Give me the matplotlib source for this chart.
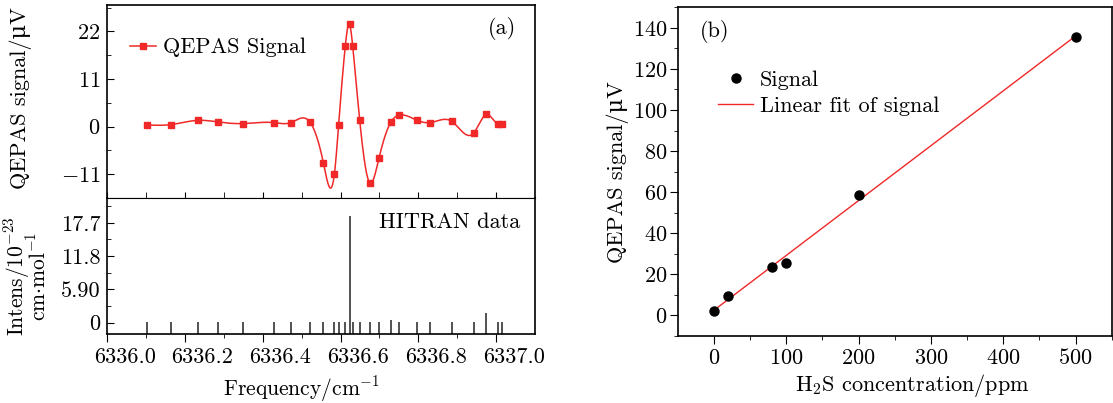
import matplotlib
matplotlib.use("Agg")
import matplotlib.pyplot as plt
import matplotlib.transforms as mtransforms
import numpy as np

plt.rcParams['font.family'] = ['cmr10', 'DejaVu Serif']
plt.rcParams['mathtext.fontset'] = 'cm'
plt.rcParams['axes.formatter.use_mathtext'] = True
plt.rcParams['axes.unicode_minus'] = True

# (a) QEPAS signal and HITRAN lines
freq = [6336.102, 6336.164, 6336.234, 6336.285, 6336.348, 6336.428, 6336.472,
        6336.521, 6336.556, 6336.584, 6336.595, 6336.612, 6336.623, 6336.631,
        6336.649, 6336.675, 6336.699, 6336.730, 6336.749, 6336.797, 6336.830,
        6336.886, 6336.942, 6336.975, 6337.004, 6337.016]
signal = [0.38, 0.46, 1.45, 1.07, 0.69, 0.92, 0.92, 1.07, -8.48, -11.0, 0.46,
          18.56, 23.7, 18.7, 1.6, -12.99, -7.18, 1.15, 2.6, 1.45, 0.92, 1.2,
          -1.5, 2.8, 0.6, 0.55]
intens = [0.08, 0.08, 0.08, 0.08, 0.08, 0.08, 0.08, 0.08, 0.08, 0.08, 0.08,
          0.08, 18.9, 0.08, 0.08, 0.08, 0.08, 0.47, 0.08, 0.08, 0.08, 0.08,
          0.08, 1.77, 0.08, 0.08]

# (b) calibration
conc = [0, 20, 80, 100, 200, 500]
conc_sig = [2.0, 9.6, 23.7, 25.7, 58.8, 135.5]

red = '#f02828'
fs = 16


def natural_spline(x, y, n=800):
    x = np.asarray(x, float)
    y = np.asarray(y, float)
    m = len(x)
    h = np.diff(x)
    A = np.zeros((m, m))
    b = np.zeros(m)
    A[0, 0] = A[-1, -1] = 1
    for i in range(1, m - 1):
        A[i, i - 1] = h[i - 1]
        A[i, i] = 2 * (h[i - 1] + h[i])
        A[i, i + 1] = h[i]
        b[i] = 3 * ((y[i + 1] - y[i]) / h[i] - (y[i] - y[i - 1]) / h[i - 1])
    c = np.linalg.solve(A, b)
    bb = (y[1:] - y[:-1]) / h - h * (2 * c[:-1] + c[1:]) / 3
    d = (c[1:] - c[:-1]) / (3 * h)
    xs = np.linspace(x[0], x[-1], n)
    k = np.clip(np.searchsorted(x, xs) - 1, 0, m - 2)
    t = xs - x[k]
    ys = y[k] + bb[k] * t + c[k] * t ** 2 + d[k] * t ** 3
    return xs, ys


fig = plt.figure(figsize=(11.13, 4.03), dpi=100)
ax1 = fig.add_axes([0.0964, 0.5087, 0.3843, 0.4789])
ax2 = fig.add_axes([0.0964, 0.1712, 0.3843, 0.3375], sharex=ax1)
ax3 = fig.add_axes([0.6089, 0.1663, 0.3899, 0.8156])

xs, ys = natural_spline(freq, signal)
ax1.plot(xs, ys, color=red, lw=1.1)
ax1.plot(freq, signal, 's', color=red, ms=5)
ax1.plot([], [], '-s', color=red, ms=5, lw=1.1, label='QEPAS Signal')
ax1.legend(loc='upper left', bbox_to_anchor=(0.053, 0.83), frameon=False,
           fontsize=fs, handlelength=1.15, handletextpad=0.35, borderpad=0,
           borderaxespad=0)
ax1.set_xlim(6336.0, 6337.1)
ax1.set_ylim(-16.1, 28.1)
ax1.set_yticks([-11, 0, 11, 22])
ax1.set_yticks([-16.5, -5.5, 5.5, 16.5, 27.5], minor=True)
ax1.set_xticks(np.arange(6336.0, 6337.05, 0.2))
ax1.set_xticks(np.arange(6336.1, 6337.1, 0.2), minor=True)
ax1.tick_params(axis='y', which='both', direction='in', labelsize=fs, pad=5)
ax1.tick_params(axis='y', which='major', length=5)
ax1.tick_params(axis='y', which='minor', length=3)
ax1.tick_params(axis='x', which='both', direction='in', length=4, labelbottom=False)
ax1.set_ylabel('QEPAS signal/μV', fontsize=fs)
ax1.yaxis.set_label_coords(-0.176, 0.52)
ax1.text(0.955, 0.88, '(a)', transform=ax1.transAxes, fontsize=fs,
         ha='right', va='center')

ax2.vlines(freq, -2.0, intens, color='#222222', lw=1.1)
ax2.set_ylim(-2.0, 22.1)
ax2.set_yticks([0, 5.9, 11.8, 17.7])
ax2.set_yticklabels(['0', '5.90', '11.8', '17.7'])
ax2.set_yticks([2.95, 8.85, 14.75, 20.65], minor=True)
ax2.tick_params(axis='y', which='both', direction='in', labelsize=fs, pad=5)
ax2.tick_params(axis='y', which='major', length=5)
ax2.tick_params(axis='y', which='minor', length=3)
ax2.tick_params(axis='x', which='major', direction='out', length=6,
                labelsize=fs, pad=4)
ax2.tick_params(axis='x', which='minor', direction='out', length=3)
ax2.set_xticklabels(['6336.0', '6336.2', '6336.4', '6336.6', '6336.8', '6337.0'])
shift = mtransforms.ScaledTranslation(0.175, 0, fig.dpi_scale_trans)
for lab in ax2.get_xticklabels():
    lab.set_transform(lab.get_transform() + shift)
ax2.set_xlabel('Frequency/cm$^{-1}$', fontsize=15.5)
ax2.xaxis.set_label_coords(0.453, -0.295)
ax2.set_ylabel('Intens/10$^{-23}$\ncm$\\cdot$mol$^{-1}$', fontsize=15.5,
               linespacing=0.72)
ax2.yaxis.set_label_coords(-0.134, 0.425)
ax2.text(0.965, 0.82, 'HITRAN data', transform=ax2.transAxes, fontsize=fs,
         ha='right', va='center')

for ax in (ax1, ax2, ax3):
    for sp in ax.spines.values():
        sp.set_linewidth(1.2)
ax1.spines['bottom'].set_linewidth(0.8)
ax2.spines['top'].set_linewidth(0.8)

# (b)
k, b0 = np.polyfit(conc, conc_sig, 1)
fit_x = np.array([conc[0], conc[-1]])
ax3.plot(fit_x, k * fit_x + b0, color=red, lw=1.0, label='Linear fit of signal')
ax3.plot(conc, conc_sig, 'o', color='black', ms=6.5, label='Signal')
h, l = ax3.get_legend_handles_labels()
ax3.legend(h[::-1], l[::-1], loc='upper left', bbox_to_anchor=(0.093, 0.808),
           frameon=False, fontsize=fs, handlelength=1.57, handletextpad=0.3,
           borderpad=0, borderaxespad=0, labelspacing=0.3)
ax3.set_xlim(-50, 550)
ax3.set_ylim(-10, 150)
ax3.set_xticks(np.arange(0, 501, 100))
ax3.set_xticks(np.arange(50, 551, 100), minor=True)
ax3.set_yticks(np.arange(0, 141, 20))
ax3.set_yticks(np.arange(-10, 151, 20), minor=True)
ax3.tick_params(which='both', direction='out', labelsize=fs)
ax3.tick_params(which='major', length=6)
ax3.tick_params(which='minor', length=3)
ax3.tick_params(axis='y', pad=1.5)
ax3.tick_params(axis='x', pad=3)
ax3.set_xlabel('H$_2$S concentration/ppm', fontsize=fs)
ax3.xaxis.set_label_coords(0.54, -0.11)
ax3.set_ylabel('QEPAS signal/μV', fontsize=fs)
ax3.yaxis.set_label_coords(-0.112, 0.5)
ax3.text(0.052, 0.925, '(b)', transform=ax3.transAxes, fontsize=fs,
         ha='left', va='center')

fig.savefig('out.png', dpi=100)
